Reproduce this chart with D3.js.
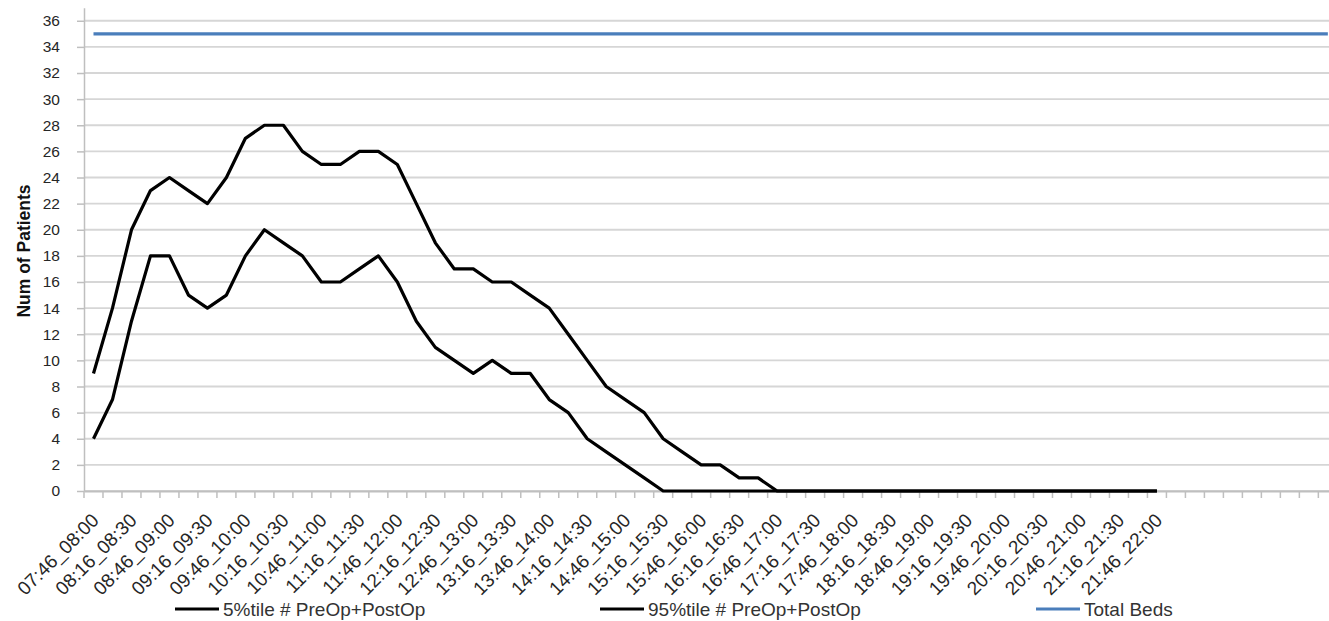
<!DOCTYPE html>
<html>
<head>
<meta charset="utf-8">
<script src="https://cdn.jsdelivr.net/npm/d3@7"></script>
<style>
  html, body { margin: 0; padding: 0; background: #fff; }
  svg { display: block; font-family: "Liberation Sans", Arial, sans-serif; }
</style>
</head>
<body>
<svg id="chart" width="1329" height="621"></svg>
<script>
// ---- DATA ----
const timeLabels = [
  "07:46_08:00","08:01_08:15","08:16_08:30","08:31_08:45","08:46_09:00","09:01_09:15",
  "09:16_09:30","09:31_09:45","09:46_10:00","10:01_10:15","10:16_10:30","10:31_10:45",
  "10:46_11:00","11:01_11:15","11:16_11:30","11:31_11:45","11:46_12:00","12:01_12:15",
  "12:16_12:30","12:31_12:45","12:46_13:00","13:01_13:15","13:16_13:30","13:31_13:45",
  "13:46_14:00","14:01_14:15","14:16_14:30","14:31_14:45","14:46_15:00","15:01_15:15",
  "15:16_15:30","15:31_15:45","15:46_16:00","16:01_16:15","16:16_16:30","16:31_16:45",
  "16:46_17:00","17:01_17:15","17:16_17:30","17:31_17:45","17:46_18:00","18:01_18:15",
  "18:16_18:30","18:31_18:45","18:46_19:00","19:01_19:15","19:16_19:30","19:31_19:45",
  "19:46_20:00","20:01_20:15","20:16_20:30","20:31_20:45","20:46_21:00","21:01_21:15",
  "21:16_21:30","21:31_21:45","21:46_22:00",
  "","","","","","","","",""
];

const pct5 = [4,7,13,18,18,15,14,15,18,20,19,18,16,16,17,18,16,13,11,10,9,10,9,9,7,6,4,3,2,1,0,
  0,0,0,0,0,0,0,0,0,0,0,0,0,0,0,0,0,0,0,0,0,0,0,0,0,0];

const pct95 = [9,14,20,23,24,23,22,24,27,28,28,26,25,25,26,26,25,22,19,17,17,16,16,15,14,12,10,8,7,6,4,3,2,2,1,1,0,
  0,0,0,0,0,0,0,0,0,0,0,0,0,0,0,0,0,0,0,0];

const totalBeds = [35,35,35,35,35,35,35,35,35,35,35,35,35,35,35,35,35,35,35,35,35,35,
  35,35,35,35,35,35,35,35,35,35,35,35,35,35,35,35,35,35,35,35,35,35,
  35,35,35,35,35,35,35,35,35,35,35,35,35,35,35,35,35,35,35,35,35,35];

const yTicks = [0,2,4,6,8,10,12,14,16,18,20,22,24,26,28,30,32,34,36];

const seriesNames = ["5%tile # PreOp+PostOp", "95%tile # PreOp+PostOp", "Total Beds"];

// ---- LAYOUT ----
const svg = d3.select("#chart");
const plotLeft = 84, plotBottom = 491, plotTop = 7.7;
const bandW = 18.99;
const x = d3.scaleBand().domain(d3.range(timeLabels.length))
  .range([plotLeft, plotLeft + bandW * timeLabels.length]).paddingInner(0).paddingOuter(0);
const y = d3.scaleLinear().domain([0, 37]).range([plotBottom, plotTop]);
const cx = i => x(i) + x.bandwidth() / 2;

const gridColor = "#d6d6d6";
const axisColor = "#bfbfbf";

// gridlines
svg.append("g").selectAll("line").data(yTicks).join("line")
  .attr("x1", plotLeft).attr("x2", x.range()[1])
  .attr("y1", d => y(d)).attr("y2", d => y(d))
  .attr("stroke", gridColor).attr("stroke-width", 1.8);

// y axis
const yAxis = svg.append("g").attr("transform", `translate(${plotLeft},0)`)
  .call(d3.axisLeft(y).tickValues(yTicks).tickSize(7).tickPadding(17).tickSizeOuter(0));
yAxis.select(".domain").attr("stroke", axisColor).attr("stroke-width", 1.5);
yAxis.selectAll(".tick line").attr("stroke", axisColor).attr("stroke-width", 1.5);
yAxis.selectAll(".tick text").attr("font-size", 15.5).attr("fill", "#262626")
  .attr("font-family", "Liberation Sans, Arial, sans-serif");

// x axis
const xAxis = svg.append("g").attr("transform", `translate(0,${plotBottom})`)
  .call(d3.axisBottom(x).tickSize(0).tickFormat(""));
xAxis.select(".domain").attr("stroke", axisColor).attr("stroke-width", 1.8);
// tick marks at category boundaries
svg.append("g").selectAll("line").data(d3.range(timeLabels.length + 1)).join("line")
  .attr("x1", i => plotLeft + i * x.step()).attr("x2", i => plotLeft + i * x.step())
  .attr("y1", plotBottom).attr("y2", plotBottom + 7)
  .attr("stroke", axisColor).attr("stroke-width", 1.5);

// x labels (every other category)
svg.append("g").selectAll("text")
  .data(timeLabels.map((t, i) => ({t, i})).filter(d => d.t !== "" && d.i % 2 === 0))
  .join("text")
  .attr("transform", d => `translate(${cx(d.i) - 3},${plotBottom + 21}) rotate(-45)`)
  .attr("text-anchor", "end")
  .attr("dy", "0.71em")
  .attr("font-size", 19)
  .attr("fill", "#262626")
  .text(d => d.t);

// y title
svg.append("text")
  .attr("transform", `translate(30,251) rotate(-90)`)
  .attr("text-anchor", "middle")
  .attr("font-size", 17.5).attr("font-weight", "bold").attr("fill", "#111")
  .text("Num of Patients");

// lines
const line = d3.line().defined(d => d != null).x((d, i) => cx(i)).y(d => y(d));
const colors = ["#000000", "#000000", "#4a7ebb"];
[pct5, pct95, totalBeds].forEach((s, k) => {
  svg.append("path").datum(s)
    .attr("d", line)
    .attr("fill", "none")
    .attr("stroke", colors[k])
    .attr("stroke-width", 3.2)
    .attr("stroke-linejoin", "round")
    .attr("stroke-linecap", "butt");
});

// legend
const legendX = [175, 600, 1036];
const lg = svg.append("g");
seriesNames.forEach((name, k) => {
  lg.append("line").attr("x1", legendX[k]).attr("x2", legendX[k] + 44)
    .attr("y1", 609).attr("y2", 609)
    .attr("stroke", colors[k]).attr("stroke-width", 3.2);
  lg.append("text").attr("x", legendX[k] + 48).attr("y", 615.5)
    .attr("font-size", 19).attr("fill", "#333").text(name);
});
</script>
</body>
</html>
